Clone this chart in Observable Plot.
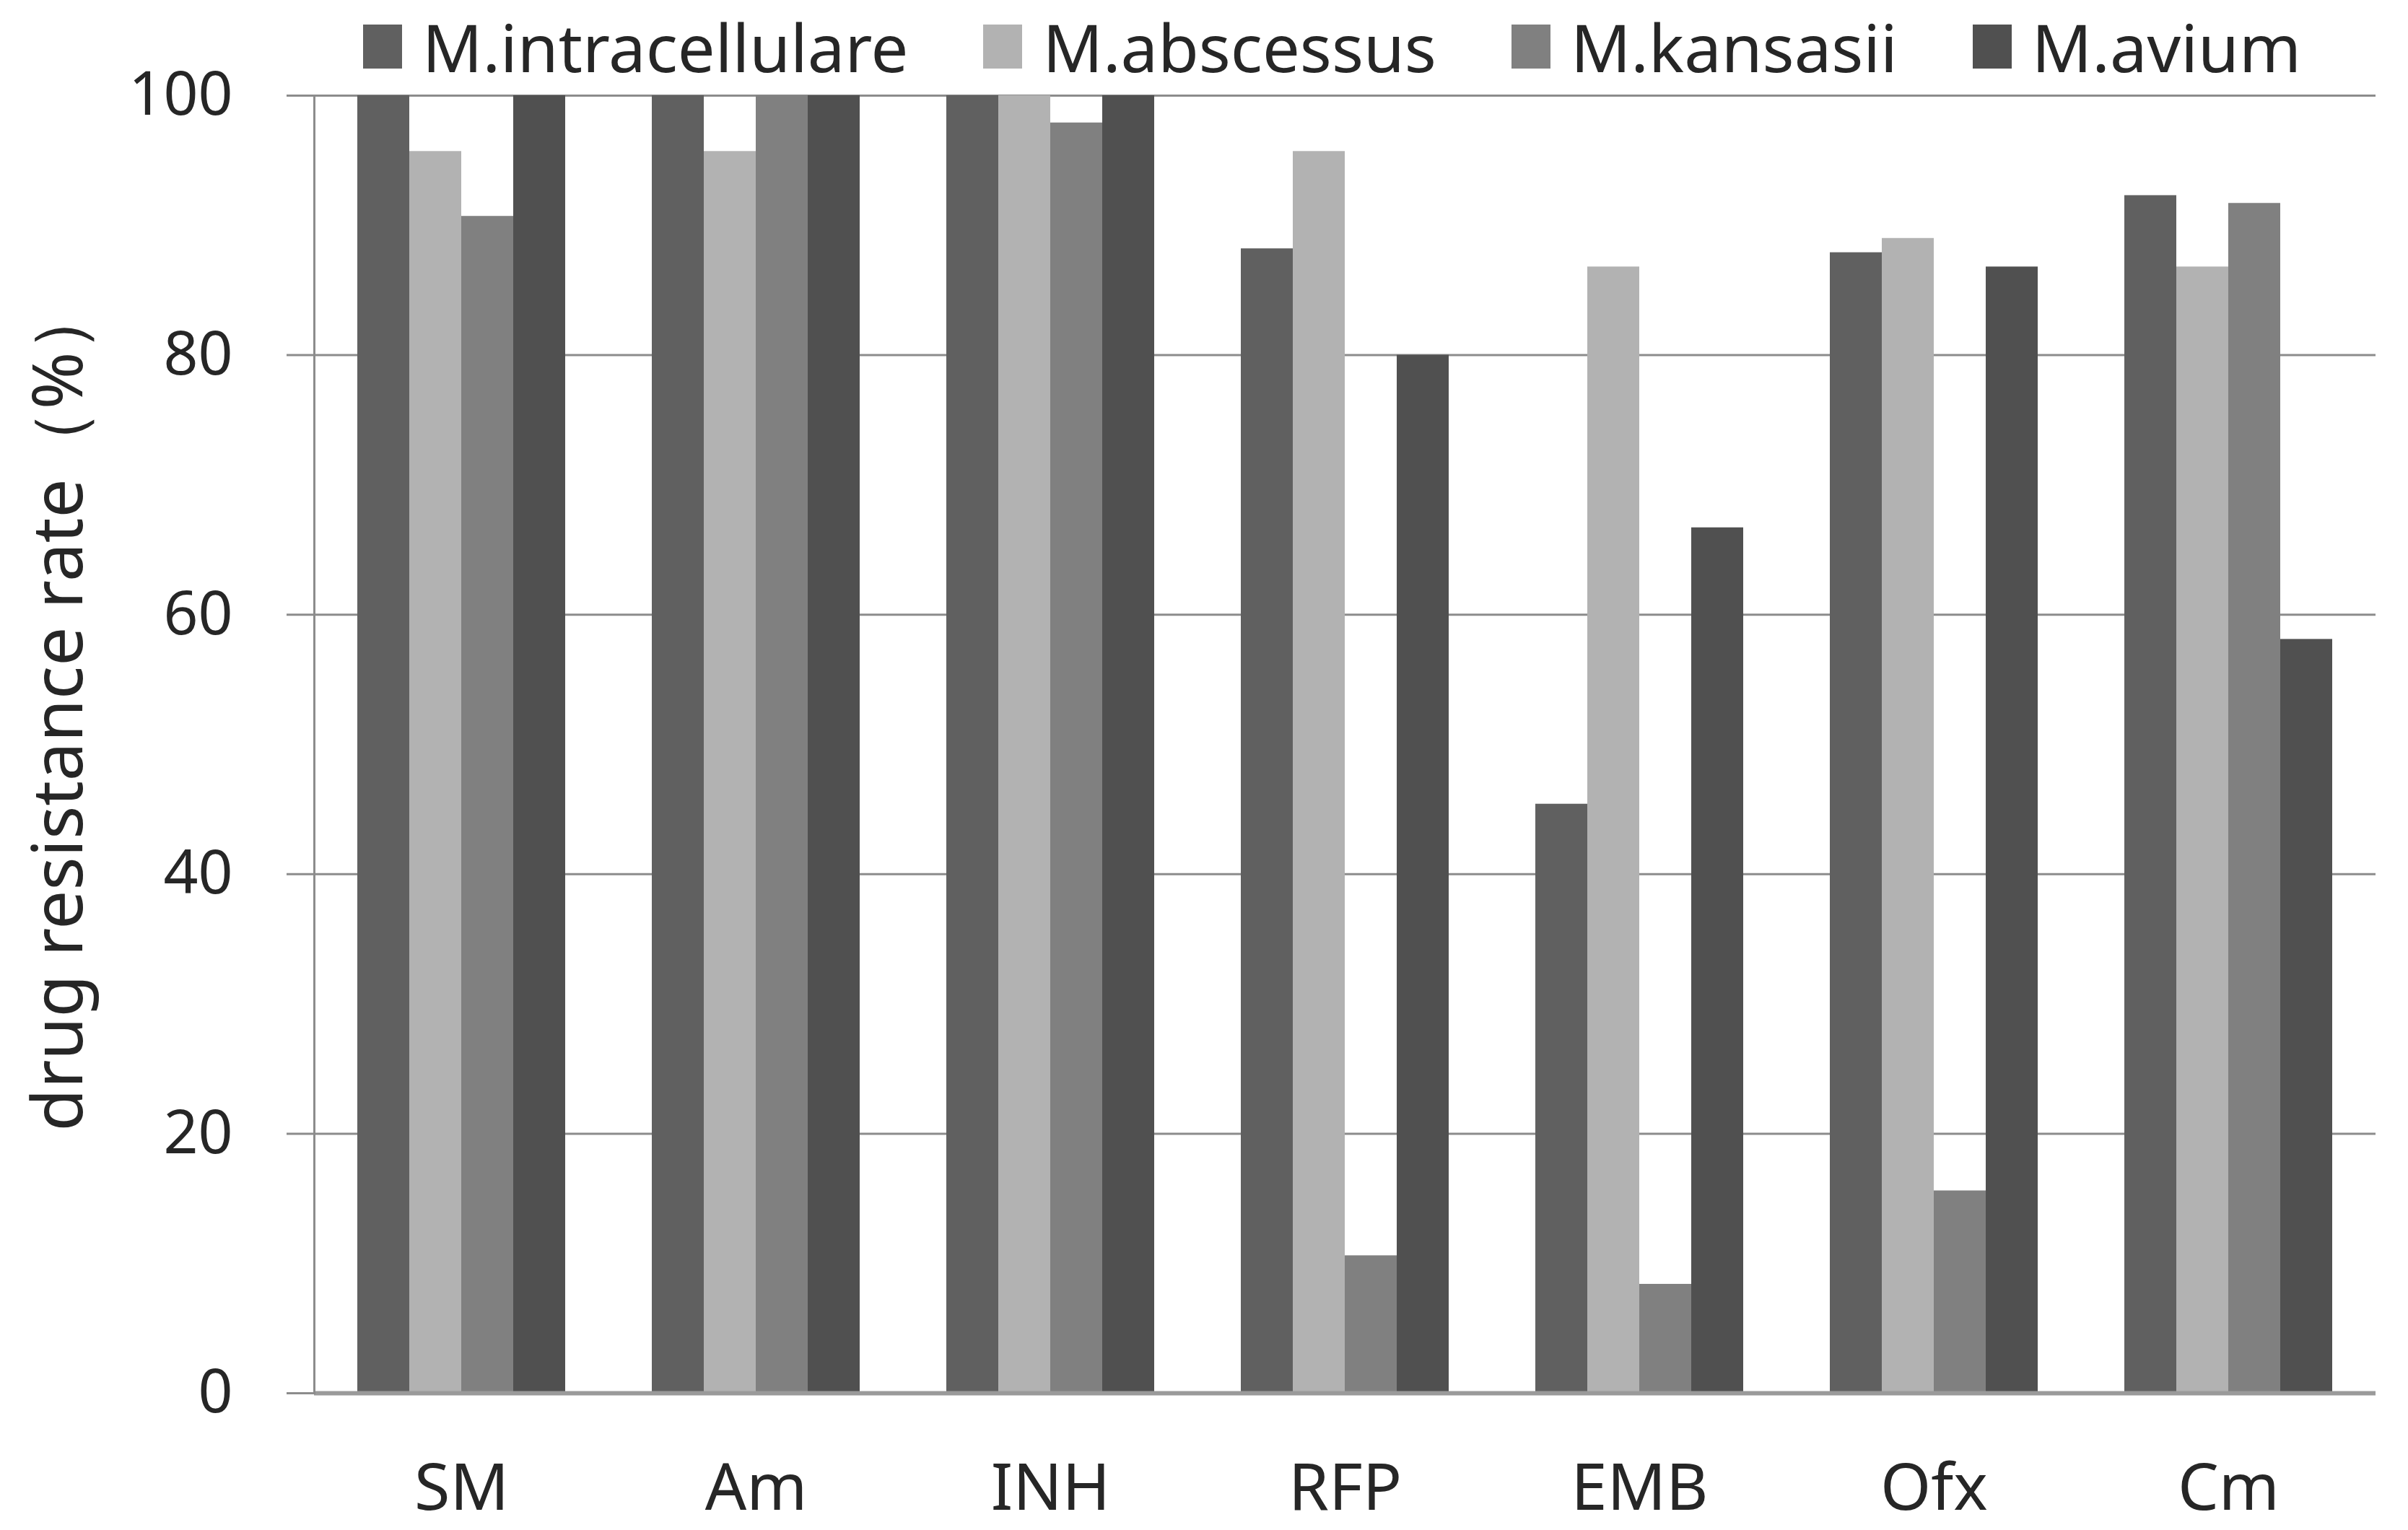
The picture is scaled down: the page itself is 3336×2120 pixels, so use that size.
<!DOCTYPE html>
<html>
<head>
<meta charset="utf-8">
<script src="https://cdn.jsdelivr.net/npm/d3@7"></script>
<script src="https://cdn.jsdelivr.net/npm/@observablehq/plot@0.6"></script>
<style>
  html, body { margin: 0; padding: 0; background: #fff; }
  body { width: 3336px; height: 2120px; overflow: hidden; font-family: "Noto Sans", sans-serif; color: #262626; }
  #legend { height: 115px; display: flex; align-items: center; padding-left: 503px; box-sizing: border-box; padding-top: 14px; }
  .item { display: flex; align-items: center; margin-right: 104px; font-size: 92px; line-height: 1; }
  .sw { width: 54px; height: 61px; margin-right: 28px; }
</style>
</head>
<body>
<div id="legend"></div>
<div id="chart"></div>
<script>
const drugs = ["SM", "Am", "INH", "RFP", "EMB", "Ofx", "Cm"];
const species = ["M.intracellulare", "M.abscessus", "M.kansasii", "M.avium"];
const intracellulare = [100, 100, 100, 88.2, 45.4, 87.9, 92.3];
const abscessus = [95.7, 95.7, 100, 95.7, 86.8, 89.0, 86.8];
const kansasii = [90.7, 100, 97.9, 10.6, 8.4, 15.6, 91.7];
const avium = [100, 100, 100, 80.0, 66.7, 86.8, 58.1];
const colors = ["#606060", "#b2b2b2", "#808080", "#505050"];
const yTicks = [0, 20, 40, 60, 80, 100];
const yLabel = "drug resistance rate（%）";

const series = [intracellulare, abscessus, kansasii, avium];
const data = drugs.flatMap((d, i) => species.map((s, j) => ({drug: d, species: s, value: series[j][i]})));

const legend = document.getElementById("legend");
species.forEach((s, j) => {
  const it = document.createElement("div");
  it.className = "item";
  const sw = document.createElement("div");
  sw.className = "sw";
  sw.style.background = colors[j];
  const t = document.createElement("span");
  t.textContent = s;
  it.appendChild(sw); it.appendChild(t);
  legend.appendChild(it);
});

const chart = Plot.plot({
  width: 3336,
  height: 2005,
  marginTop: 17,
  marginBottom: 190,
  marginLeft: 432,
  marginRight: 43,
  style: {fontFamily: "Noto Sans, sans-serif", fontSize: "84px", color: "#262626", background: "#fff", overflow: "visible"},
  fx: {domain: drugs, padding: 0, label: null},
  x: {domain: species, paddingInner: 0, paddingOuter: 0.805, axis: null},
  y: {domain: [0, 100], axis: null},
  color: {domain: species, range: colors},
  marks: [
    Plot.ruleY(yTicks, {stroke: "#8c8c8c", strokeWidth: 3}),
    Plot.barY(data, {fx: "drug", x: "species", y: "value", fill: "species"}),
    Plot.ruleY([0], {stroke: "#9a9a9a", strokeWidth: 6}),
    Plot.frame({anchor: "left", facet: "super", stroke: "#8c8c8c", strokeWidth: 3}),
    Plot.axisY({ticks: yTicks, tickSize: 38, tickPadding: 75, stroke: "#8c8c8c", strokeWidth: 3, fill: "#262626", label: null}),
    Plot.text([yLabel], {text: (d) => d, frameAnchor: "left", textAnchor: "middle", lineAnchor: "middle", rotate: -90,
      dx: -352, dy: -52, facet: "super", fontSize: 96, fill: "#262626"}),
    Plot.axisFx({anchor: "bottom", tickSize: 0, tickPadding: 98, fontSize: 90, label: null})
  ]
});
document.getElementById("chart").appendChild(chart);
</script>
</body>
</html>
